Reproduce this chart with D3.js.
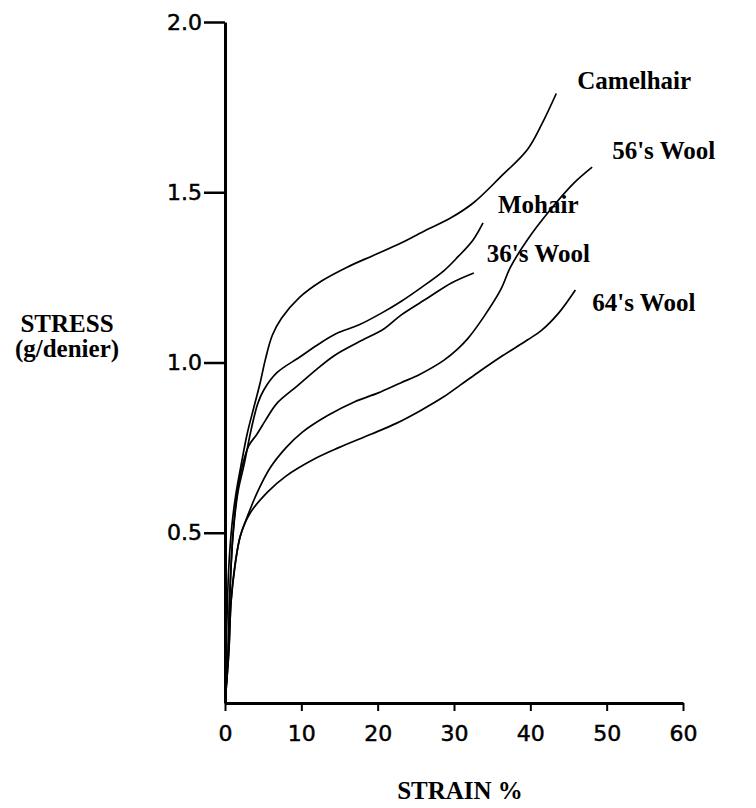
<!DOCTYPE html>
<html>
<head>
<meta charset="utf-8">
<script src="https://cdn.jsdelivr.net/npm/d3@7"></script>
<style>
  body { margin: 0; background: #fff; }
  .lbl { font-family: 'Liberation Serif', 'Times New Roman', serif; font-weight: bold; font-size: 25px; fill: #000; }
  .tick text { font-family: 'DejaVu Sans', sans-serif; font-size: 22px; fill: #000; stroke: #000; stroke-width: 0.5px; }
</style>
</head>
<body>
<svg class="chart" width="756" height="808"></svg>
<script>
/**
 * Stress-strain curves of animal fibres
 */

// strain %, stress g/denier
var camelhair = [[0,0],[0.2,0.2],[0.5,0.4],[0.9,0.52],[1.4,0.61],[2.2,0.71],[2.9,0.79],[3.8,0.87],
  [4.6,0.94],[5.3,1.01],[6.2,1.08],[7.4,1.13],[9.7,1.19],[12.7,1.24],[16,1.28],[19.5,1.315],
  [23,1.35],[26,1.385],[29.6,1.425],[32.6,1.47],[36.1,1.545],[39.6,1.625],[41.5,1.70],[43.4,1.79]];
var mohair = [[0,0],[0.4,0.15],[0.6,0.3],[1.0,0.48],[1.7,0.62],[2.5,0.70],[3.4,0.80],[4.3,0.88],
  [5.1,0.92],[6.8,0.97],[9.8,1.016],[12,1.05],[14.6,1.085],[17.5,1.11],[20.5,1.145],[23.1,1.18],
  [25.7,1.22],[28.7,1.27],[30.5,1.31],[32.5,1.36],[33.8,1.41]];
var wool36 = [[0,0],[0.4,0.15],[0.6,0.3],[1.0,0.48],[1.5,0.6],[2.1,0.68],[3.1,0.755],[4.2,0.79],
  [5.3,0.83],[6.8,0.88],[9.4,0.93],[12,0.98],[14.3,1.02],[17.5,1.06],[20.9,1.10],[23.1,1.14],
  [26.6,1.19],[29.6,1.233],[32.6,1.263]];
var wool56 = [[0,0],[0.5,0.15],[0.8,0.3],[1.4,0.42],[2.0,0.49],[2.9,0.546],[4.2,0.617],[5.9,0.69],
  [8,0.75],[10.1,0.795],[13.5,0.845],[17,0.885],[20,0.91],[23,0.94],[25.5,0.965],
  [28.7,1.007],[30.5,1.04],[31.8,1.07],[33.9,1.134],[36.1,1.213],[37.4,1.28],[39.6,1.36],
  [42.3,1.44],[45.7,1.527],[48.1,1.574]];
var wool64 = [[0,0],[0.5,0.15],[0.8,0.3],[1.3,0.40],[2.0,0.49],[3.3,0.558],[5.6,0.62],[7.9,0.665],
  [12,0.72],[14.9,0.75],[19.2,0.79],[22.5,0.822],[25.7,0.86],[28.7,0.9],[30.9,0.935],[33.1,0.97],
  [36.1,1.016],[39.6,1.066],[41.5,1.095],[43.7,1.145],[45.9,1.213]];

var seriesNames = ['Camelhair', "56's Wool", 'Mohair', "36's Wool", "64's Wool"];
var seriesData = [camelhair, wool56, mohair, wool36, wool64];

var xTicks = [0, 10, 20, 30, 40, 50, 60];
var yTicks = [0.5, 1.0, 1.5, 2.0];

var svg = d3.select('svg.chart');

var x = d3.scaleLinear().domain([0, 60]).range([225, 683]);
var y = d3.scaleLinear().domain([0, 2]).range([703, 22]);

// Axes
svg.append('g')
    .attr('transform', 'translate(0,' + y(0) + ')')
    .call(d3.axisBottom(x).tickValues(xTicks).tickSize(8).tickSizeOuter(0).tickPadding(14))
    .call(function(g) {
      g.select('.domain').attr('stroke-width', 3);
      g.selectAll('.tick line').attr('stroke-width', 2);
    });

svg.append('g')
    .attr('transform', 'translate(' + x(0) + ',0)')
    .call(d3.axisLeft(y).tickValues(yTicks).tickFormat(d3.format('.1f')).tickSize(21).tickSizeOuter(0).tickPadding(2))
    .call(function(g) {
      g.select('.domain').attr('stroke-width', 3);
      g.selectAll('.tick line').attr('stroke-width', 2.5);
    });

// Curves
var line = d3.line()
    .x(function(d) { return x(d[0]); })
    .y(function(d) { return y(d[1]); })
    .curve(d3.curveCatmullRom.alpha(0.5));

svg.selectAll('path.curve')
    .data(seriesData)
  .enter().append('path')
    .attr('class', 'curve')
    .attr('fill', 'none')
    .attr('stroke', '#000')
    .attr('stroke-width', 1.7)
    .attr('d', line);

// Curve labels, placed relative to each curve's last point
var labelOffsets = [[21, -5], [20, -8], [15, -10], [13, -11], [17, 21]];
svg.selectAll('text.name')
    .data(seriesNames)
  .enter().append('text')
    .attr('class', 'lbl name')
    .attr('x', function(d, i) { var p = seriesData[i][seriesData[i].length - 1]; return x(p[0]) + labelOffsets[i][0]; })
    .attr('y', function(d, i) { var p = seriesData[i][seriesData[i].length - 1]; return y(p[1]) + labelOffsets[i][1]; })
    .text(function(d) { return d; });

// Axis titles
svg.append('text').attr('class', 'lbl').attr('x', 67).attr('y', 332)
    .attr('text-anchor', 'middle').text('STRESS');
svg.append('text').attr('class', 'lbl').attr('x', 67).attr('y', 357)
    .attr('text-anchor', 'middle').text('(g/denier)');
svg.append('text').attr('class', 'lbl').attr('x', 460).attr('y', 799)
    .attr('text-anchor', 'middle').text('STRAIN %');
</script>
</body>
</html>
